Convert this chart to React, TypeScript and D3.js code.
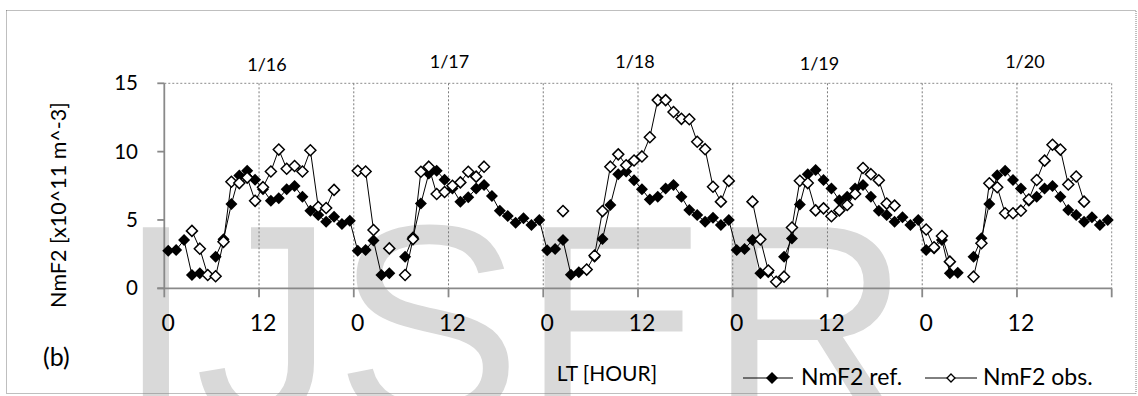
import React from "react";
import * as d3 from "d3";

// ---- data (NmF2, x10^11 m^-3), hourly LT, 5 days ----
const dayLabels = ["1/16", "1/17", "1/18", "1/19", "1/20"];
const xTickLabels = ["0", "12", "0", "12", "0", "12", "0", "12", "0", "12"];
const yTickValues = [0, 5, 10, 15];

const ref16 = [2.75, 2.8, 3.53, 0.97, 1.1, null, 2.31, 3.58, 6.17, 8.25, 8.6, 7.95, 7.24, 6.41, 6.58, 7.24, 7.48, 6.7, 5.68, 5.36, 4.87, 5.24, 4.7, 4.94];
const ref17 = [2.75, 2.8, 3.5, 0.97, 1.1, null, 2.31, 3.73, 6.2, 8.4, 8.6, 7.95, 7.3, 6.34, 6.66, 7.3, 7.55, 6.75, 5.68, 5.29, 4.8, 5.12, 4.63, 5.0];
const ref18 = [2.78, 2.88, 3.53, 1.0, 1.17, null, 2.31, 3.6, 6.1, 8.35, 8.55, 7.9, 7.25, 6.5, 6.7, 7.3, 7.55, 6.7, 5.73, 5.36, 4.87, 5.17, 4.63, 5.0];
const ref19 = [2.8, 2.87, 3.53, 1.1, 1.17, null, 2.31, 3.65, 6.14, 8.34, 8.66, 7.92, 7.3, 6.45, 6.7, 7.3, 7.55, 6.7, 5.68, 5.36, 4.87, 5.2, 4.63, 5.0];
const ref20 = [2.8, 2.92, 3.53, 1.1, 1.14, null, 2.3, 3.66, 6.17, 8.28, 8.6, 7.92, 7.3, 6.4, 6.7, 7.3, 7.48, 6.7, 5.73, 5.36, 4.87, 5.2, 4.63, 5.0];

const obs16 = [null, null, null, 4.2, 2.9, 0.97, 0.88, 3.4, 7.8, 7.7, 8.1, 6.4, 7.4, 8.55, 10.15, 8.75, 8.95, 8.55, 10.1, 5.95, 5.88, 7.2, null, null];
const obs17 = [8.6, 8.55, 4.27, null, 2.92, null, 0.97, 3.6, 8.53, 8.9, 6.9, 7.05, 7.5, 7.75, 8.53, 8.17, 8.9, null, null, null, null, null, null, null];
const obs18 = [null, null, 5.65, null, null, 1.37, 2.4, 5.65, 8.9, 9.8, 9.0, 9.35, 9.65, 11.05, 13.77, 13.77, 12.9, 12.4, 12.37, 10.72, 10.18, 7.43, 6.34, 7.86];
const obs19 = [null, null, 6.34, 3.58, 1.3, 0.48, 0.85, 4.45, 7.87, 7.7, 5.7, 5.85, 5.27, 5.7, 6.1, 6.9, 8.8, 8.35, 7.9, 6.2, 6.05, null, null, null];
const obs20 = [4.3, 3.0, 3.83, 1.95, null, null, 0.85, 3.3, 7.68, 7.4, 5.49, 5.49, 5.68, 6.5, 7.92, 9.34, 10.5, 10.15, 7.6, 8.18, 6.34, null, null, null];

const refSeries: (number | null)[] = [...ref16, ...ref17, ...ref18, ...ref19, ...ref20];
const obsSeries: (number | null)[] = [...obs16, ...obs17, ...obs18, ...obs19, ...obs20];

// ---- layout ----
const W = 1138;
const H = 396;
const PL = 164.3;
const PR = 1111.7;
const PT = 83.3;
const PB = 288.3;
const FONT = "Lato, 'Open Sans', sans-serif";
const AXIS = "#898989";
const dateDx = [4, -3, -7, -12, 4];
const dateY = [65, 62, 62, 64, 62];

const diamond = (r: number) => `M0,${-r}L${r},0L0,${r}L${-r},0Z`;

export default function App() {
  const categories = refSeries.map((_, i) => i);
  const x = d3.scaleBand<number>().domain(categories).range([PL, PR]).padding(0);
  const bw = x.bandwidth();
  const cx = (i: number) => (x(i) as number) + bw / 2;
  const y = d3.scaleLinear().domain([0, 15]).range([PB, PT]);

  const line = d3
    .line<number | null>()
    .defined((d) => d != null)
    .x((_, i) => cx(i))
    .y((d) => y(d as number));

  const boundaries = d3.range(0, categories.length + 1, 12);

  return (
    <svg
      width={W}
      height={H}
      style={{ position: "absolute", left: 0, top: 0, background: "#fff" }}
      fontFamily={FONT}
    >
      <rect width={W} height={H} fill="#fff" />
      {/* watermark */}
      <text
        x={117}
        y={420}
        fontFamily="'Liberation Sans', Arial, sans-serif"
        fontSize={280}
        fill="#d9d9d9"
      >
        IJSER
      </text>
      {/* outer border */}
      <rect x={6.5} y={10.5} width={1129.5} height={383} fill="none" stroke="#7f7f7f" strokeWidth={1} strokeDasharray="1,1" />

      {/* plot border top/right dotted */}
      <line x1={PL} x2={PR} y1={PT} y2={PT} stroke="#8a8a8a" strokeDasharray="2,2" strokeWidth={1} />
      <line x1={PR} x2={PR} y1={PT} y2={PB} stroke="#8a8a8a" strokeDasharray="2,2" strokeWidth={1} />
      {/* vertical gridlines */}
      {boundaries.slice(1, -1).map((b) => (
        <line key={"g" + b} x1={PL + b * bw} x2={PL + b * bw} y1={PT} y2={PB} stroke="#7a7a7a" strokeDasharray="2,2" strokeWidth={1} />
      ))}

      {/* axes */}
      <line x1={PL} x2={PL} y1={PT} y2={PB} stroke={AXIS} strokeWidth={1.8} />
      <line x1={PL - 7} x2={PR} y1={PB} y2={PB} stroke={AXIS} strokeWidth={1.8} />
      {yTickValues.map((v) => (
        <g key={"yt" + v}>
          <line x1={PL - 7} x2={PL} y1={y(v)} y2={y(v)} stroke={AXIS} strokeWidth={1.8} />
          <text x={138} y={y(v)} dy="0.35em" textAnchor="end" fontSize={20.5} fill="#000">
            {v}
          </text>
        </g>
      ))}
      {boundaries.map((b) => (
        <line key={"xt" + b} x1={PL + b * bw} x2={PL + b * bw} y1={PB} y2={PB + 9} stroke={AXIS} strokeWidth={1.8} />
      ))}
      {xTickLabels.map((lab, k) => (
        <text key={"xl" + k} x={cx(k * 12)} y={331} textAnchor="middle" fontSize={23} fill="#000">
          {lab}
        </text>
      ))}

      {/* date labels */}
      {dayLabels.map((lab, k) => (
        <text key={"d" + k} x={cx(12 + 24 * k) + dateDx[k]} y={dateY[k]} dy="0.35em" textAnchor="middle" fontSize={18} fill="#000">
          {lab}
        </text>
      ))}

      {/* series: ref */}
      <path d={line(refSeries) || ""} fill="none" stroke="#000" strokeWidth={1} />
      {refSeries.map((v, i) =>
        v == null ? null : (
          <path key={"r" + i} d={diamond(6)} transform={`translate(${cx(i)},${y(v)})`} fill="#000" />
        )
      )}
      {/* series: obs */}
      <path d={line(obsSeries) || ""} fill="none" stroke="#000" strokeWidth={1} />
      {obsSeries.map((v, i) =>
        v == null ? null : (
          <path key={"o" + i} d={diamond(5.5)} transform={`translate(${cx(i)},${y(v)})`} fill="#fff" stroke="#000" strokeWidth={1.5} />
        )
      )}

      {/* titles */}
      <text transform="translate(58,205) rotate(-90)" textAnchor="middle" dy="0.35em" fontSize={21.5} fill="#000">
        NmF2 [x10^11 m^-3]
      </text>
      <text x={607} y={381} textAnchor="middle" fontSize={21} fill="#000">
        LT [HOUR]
      </text>
      <text x={43} y={366} fontSize={25} fill="#000">
        (b)
      </text>

      {/* legend */}
      <line x1={743} x2={793} y1={378} y2={378} stroke="#000" strokeWidth={1} />
      <path d={diamond(6)} transform="translate(772,378)" fill="#000" />
      <text x={801} y={385} fontSize={23} fill="#000">
        NmF2 ref.
      </text>
      <line x1={925} x2={977} y1={378} y2={378} stroke="#000" strokeWidth={1} />
      <path d={diamond(4)} transform="translate(951,378)" fill="#fff" stroke="#000" strokeWidth={1.3} />
      <text x={983} y={385} fontSize={23} fill="#000">
        NmF2 obs.
      </text>
    </svg>
  );
}
